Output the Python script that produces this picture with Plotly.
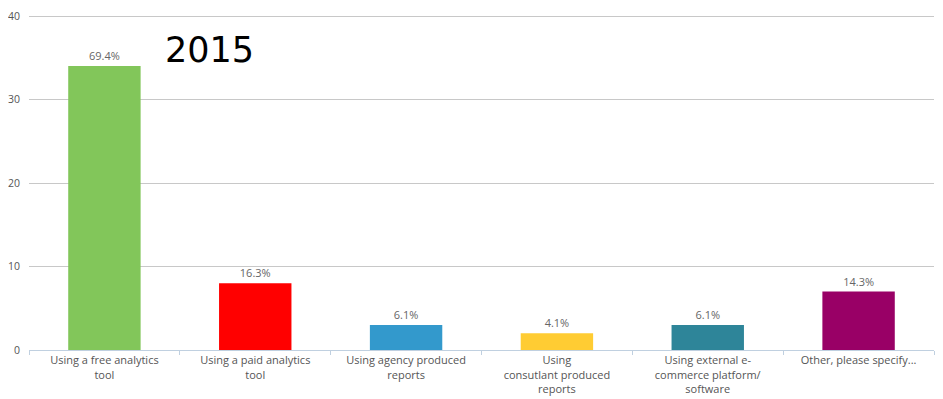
import plotly.graph_objects as go

categories = [
    "Using a free analytics<br>tool",
    "Using a paid analytics<br>tool",
    "Using agency produced<br>reports",
    "Using<br>consutlant produced<br>reports",
    "Using external e-<br>commerce platform/<br>software",
    "Other, please specify...",
]
counts = [34, 8, 3, 2, 3, 7]
labels = ["69.4%", "16.3%", "6.1%", "4.1%", "6.1%", "14.3%"]
colors = ["#82c65a", "#ff0000", "#3399cc", "#ffcc33", "#2e8599", "#990066"]

# page has an 8px body margin: figure is drawn from (8, 8)
OFF = 8
W, H = 943 - OFF, 399 - OFF
L, R, T, B = 29 - OFF, 9, 13 - OFF, 49
pw = W - L - R
ph = H - T - B

fig = go.Figure(go.Bar(
    x=categories, y=counts, text=labels, textposition="outside",
    marker=dict(color=colors, line=dict(width=0)),
    textfont=dict(family="Open Sans", size=11, color="#666666"),
    cliponaxis=False, width=0.48,
))
fig.update_layout(
    width=W, height=H,
    margin=dict(l=L, r=R, t=T, b=B, autoexpand=False),
    paper_bgcolor="white", plot_bgcolor="white",
    showlegend=False,
    font=dict(family="Open Sans", size=11, color="#555555"),
    xaxis=dict(showline=True, linecolor="#c0d0e0", linewidth=1, automargin=False,
               ticks="outside", tickson="boundaries", ticklen=4, tickcolor="#c0d0e0",
               tickfont=dict(family="Open Sans", size=11, color="#555555"), showgrid=False),
    yaxis=dict(range=[0, 40.36], tickvals=[0, 10, 20, 30, 40], showgrid=True,
               gridcolor="#c8c8c8", automargin=False,
               zeroline=False, tickfont=dict(family="Open Sans", size=10.5, color="#555555"),
               ticks="", ticklabelstandoff=8),
    annotations=[dict(text="2015",
                      x=(163 - 29) / pw, y=1 - (50 - 13) / ph,
                      xref="paper", yref="paper", xanchor="left", yanchor="middle",
                      showarrow=False,
                      font=dict(family="DejaVu Sans", size=35, color="#000000"))],
)
fig.write_html("out.html")
